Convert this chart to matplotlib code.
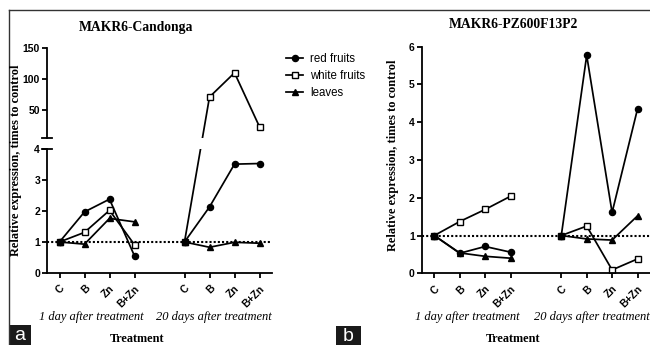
import numpy as np
import matplotlib
matplotlib.use("Agg")
import matplotlib.pyplot as plt
from matplotlib.patches import Rectangle
from matplotlib.ticker import FixedLocator
from matplotlib.lines import Line2D

# ---------------- data ----------------
categories = ["C", "B", "Zn", "B+Zn"]
groups = ["1 day after treatment", "20 days after treatment"]
series_names = ["red fruits", "white fruits", "leaves"]

# Panel a: MAKR6-Candonga
a_red_d1 = [1.0, 1.97, 2.38, 0.55]
a_red_d20 = [1.0, 2.13, 3.51, 3.53]
a_white_d1 = [1.0, 1.31, 2.02, 0.91]
a_white_d20 = [1.0, 71.0, 110.0, 23.0]
a_leaves_d1 = [1.0, 0.93, 1.76, 1.65]
a_leaves_d20 = [1.0, 0.83, 0.99, 0.96]

# Panel b: MAKR6-PZ600F13P2
b_red_d1 = [1.0, 0.53, 0.71, 0.56]
b_red_d20 = [1.0, 5.77, 1.61, 4.35]
b_white_d1 = [1.0, 1.37, 1.69, 2.04]
b_white_d20 = [1.0, 1.25, 0.09, 0.38]
b_leaves_d1 = [1.0, 0.54, 0.45, 0.40]
b_leaves_d20 = [1.0, 0.91, 0.88, 1.52]

titles = ["MAKR6-Candonga", "MAKR6-PZ600F13P2"]
ylabel = "Relative expression, times to control"
xlabel = "Treatment"
a_yticks = [0, 1, 2, 3, 4, 50, 100, 150]
b_yticks = [0, 1, 2, 3, 4, 5, 6]

# ---------------- style ----------------
W, H = 650, 345
fig = plt.figure(figsize=(6.5, 3.45), dpi=100)
SERIF = "Liberation Serif"
SANS = "Liberation Sans"
plt.rcParams["font.family"] = [SANS, "DejaVu Sans"]

x_d1 = np.arange(4)
x_d20 = np.arange(4) + 5
xpos = np.concatenate([x_d1, x_d20])

MS = 4.4
markers = {"red fruits": dict(marker="o", mfc="black", ms=MS),
           "white fruits": dict(marker="s", mfc="white", ms=MS),
           "leaves": dict(marker="^", mfc="black", ms=MS)}
LW = 1.25
SLW = 1.3


def px(x0, y0, x1, y1):
    return [x0 / W, 1 - y1 / H, (x1 - x0) / W, (y1 - y0) / H]


def fwd(y):
    y = np.asarray(y, dtype=float)
    return np.where(y <= 4, y, np.where(y <= 5, 4 + (y - 4) * 0.355, 4.355 + (y - 5) * 0.02))


def inv(t):
    t = np.asarray(t, dtype=float)
    return np.where(t <= 4, t, np.where(t <= 4.355, 4 + (t - 4) / 0.355, 5 + (t - 4.355) / 0.02))


def draw_panel(ax, data):
    order = [("white fruits", 2), ("leaves", 3), ("red fruits", 4)]
    for name, z in order:
        d1, d20 = data[name]
        for xs, ys in ((x_d1, d1), (x_d20, d20)):
            ax.plot(xs, ys, color="black", lw=LW, mec="black", mew=1.0,
                    zorder=z, **markers[name])
    ax.axhline(1, color="black", ls=(0, (1.0, 1.0)), lw=1.5, zorder=1)
    ax.set_xlim(-0.5, 8.5)
    ax.set_xticks(xpos)
    ax.set_xticklabels(categories * 2, rotation=45, ha="right", va="top",
                       rotation_mode="anchor", fontsize=7.5, fontweight="bold", family=SANS)
    for s in ("top", "right"):
        ax.spines[s].set_visible(False)
    for s in ("left", "bottom"):
        ax.spines[s].set_linewidth(SLW)
    ax.tick_params(axis="both", width=SLW, length=3.5, pad=1.5)
    ax.tick_params(axis="x", pad=4)


# ---- panel a ----
axa = fig.add_axes(px(47, 48, 272, 273))
data_a = {"red fruits": (a_red_d1, a_red_d20),
          "white fruits": (a_white_d1, a_white_d20),
          "leaves": (a_leaves_d1, a_leaves_d20)}
axa.set_yscale("function", functions=(fwd, inv))
draw_panel(axa, data_a)
axa.set_ylim(0, 150)
axa.yaxis.set_major_locator(FixedLocator(a_yticks))
axa.set_yticklabels([str(v) for v in a_yticks], fontsize=7.5, fontweight="bold")
axa.yaxis.set_minor_locator(FixedLocator([]))
# broken axis gap
axa.spines["left"].set_visible(False)
bt = axa.get_yaxis_transform()
axa.plot([0, 0], [0, 4], transform=bt, color="black", lw=SLW, clip_on=False, zorder=6,
         solid_capstyle="projecting")
axa.plot([0, 0], [5, 150], transform=bt, color="black", lw=SLW, clip_on=False, zorder=6,
         solid_capstyle="projecting")
axa.add_patch(Rectangle((0.006, 4.03), 1.0, 0.94, transform=bt, facecolor="white",
                        edgecolor="none", zorder=5, clip_on=False))
for yb in (4, 5):
    axa.plot([-0.022, 0.022], [yb, yb], transform=bt, color="black", lw=SLW,
             clip_on=False, zorder=7)

# ---- panel b ----
axb = fig.add_axes(px(421.6, 46.7, 650.2, 273.3))
data_b = {"red fruits": (b_red_d1, b_red_d20),
          "white fruits": (b_white_d1, b_white_d20),
          "leaves": (b_leaves_d1, b_leaves_d20)}
draw_panel(axb, data_b)
axb.set_ylim(0, 6)
axb.set_yticks(b_yticks)
axb.set_yticklabels([str(v) for v in b_yticks], fontsize=7.5, fontweight="bold")

# ---- texts ----
def ftext(x, y, s, **kw):
    fig.text(x / W, 1 - y / H, s, **kw)

ftext(136, 28, titles[0], ha="center", va="center", family=SERIF, fontweight="bold", fontsize=9.8)
ftext(513, 25, titles[1], ha="center", va="center", family=SERIF, fontweight="bold", fontsize=9.8)
ftext(16, 160, ylabel, ha="center", va="center", rotation=90, family=SERIF,
      fontweight="bold", fontsize=8.9)
ftext(393, 155, ylabel, ha="center", va="center", rotation=90, family=SERIF,
      fontweight="bold", fontsize=8.9)
ftext(137, 339, xlabel, ha="center", va="center", family=SERIF, fontweight="bold", fontsize=8.8)
ftext(513, 339, xlabel, ha="center", va="center", family=SERIF, fontweight="bold", fontsize=8.8)
for cx, g in ((91, groups[0]), (214, groups[1]), (467, groups[0]), (592, groups[1])):
    ftext(cx, 317, g, ha="center", va="center", family=SERIF, style="italic", fontsize=9)

# legend (manual handles)
handles = [Line2D([], [], color="black", lw=LW, mec="black", mew=1.0, **markers[n])
           for n in series_names]
fig.legend(handles, series_names, loc="upper left", bbox_to_anchor=(286 / W, 1 - 53 / H),
           frameon=False, handlelength=1.5, handletextpad=0.6,
           labelspacing=0.45, borderaxespad=0, borderpad=0, prop={"family": SANS, "size": 8.3})

# frame lines
fig.add_artist(Line2D([9 / W, 1], [1 - 10 / H, 1 - 10 / H], color="#333333", lw=1.0,
                      transform=fig.transFigure))
fig.add_artist(Line2D([9 / W, 9 / W], [1 - 10 / H, 0], color="#333333", lw=1.0,
                      transform=fig.transFigure))

# panel labels
for (x0, y0, x1, y1, s) in ((9, 325, 31, 345, "a"), (336, 326, 361, 345, "b")):
    fig.add_artist(Rectangle((x0 / W, 1 - y1 / H), (x1 - x0) / W, (y1 - y0) / H,
                             transform=fig.transFigure, facecolor="#1a1a1a", edgecolor="none"))
    ftext((x0 + x1) / 2, (y0 + y1) / 2 + 1, s, ha="center", va="center", color="white",
          fontsize=14, family=SANS)

fig.savefig("out.png", dpi=100)
